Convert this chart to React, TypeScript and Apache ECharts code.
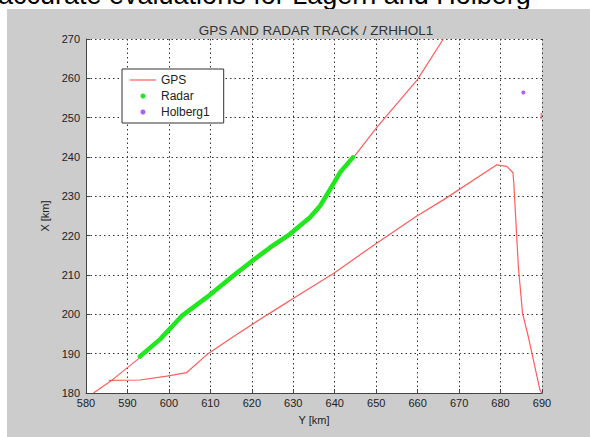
import React, { useEffect, useRef } from "react";
import * as echarts from "echarts";

// GPS track: [Y km, X km]; null breaks the line
const gpsTrack: ([number, number] | null)[] = [
  [666.2, 270.0], [659.9, 259.6], [650.2, 247.6], [644.4, 239.7], [641.3, 235.5],
  [638.9, 231.3], [636.5, 227.1], [634.0, 224.1], [629.2, 219.9], [624.4, 216.5],
  [619.6, 212.7], [615.5, 209.3], [609.1, 203.9], [603.1, 199.1], [597.9, 193.3],
  [593.0, 189.0], [585.8, 182.9], [581.8, 180.0],
  null,
  [585.5, 183.2], [593.0, 183.3], [599.5, 184.3], [604.3, 185.2], [609.1, 189.7],
  [615.5, 194.3], [623.6, 199.8], [631.6, 205.1], [639.7, 210.4], [650.1, 218.1],
  [659.8, 225.0], [666.2, 229.1], [679.1, 238.0], [681.5, 237.6], [683.0, 236.0],
  [683.2, 233.3], [684.3, 212.1], [685.3, 200.3], [686.7, 194.3], [689.5, 180.8],
  [689.9, 180.0],
  null,
  [689.8, 251.2], [689.8, 249.6],
];

// Radar track: [Y km, X km]
const radarTrack: [number, number][] = [
  [593.0, 189.3], [597.9, 193.7], [603.1, 199.6], [609.1, 204.3], [615.5, 209.8],
  [619.6, 213.2], [624.4, 217.0], [629.2, 220.4], [634.0, 224.6], [636.5, 227.6],
  [638.9, 231.8], [641.3, 236.1], [644.4, 239.9],
];

// Radar station position
const stationPos: [number, number][] = [[685.5, 256.4]];

const seriesNames = ["GPS", "Radar", "Holberg1"];
const titleText = "GPS AND RADAR TRACK / ZRHHOL1";
const xAxisName = "Y [km]";
const yAxisName = "X [km]";
const headerText = "accurate evaluations for Lägern and Holberg";

const FONT = "'Liberation Sans', Arial, sans-serif";

export default function App() {
  const ref = useRef<HTMLDivElement>(null);
  useEffect(() => {
    if (!ref.current) return;
    const chart = echarts.init(ref.current, null, { renderer: "svg" });
    chart.setOption({
      animation: false,
      backgroundColor: "#ffffff",
      textStyle: { fontFamily: FONT },
      graphic: [
        {
          type: "text",
          x: -2,
          y: -5,
          z: -20,
          style: {
            text: headerText,
            fontSize: 27,
            fontFamily: FONT,
            fill: "#000",
            verticalAlign: "middle",
          },
        },
        {
          type: "rect",
          z: -10,
          shape: { x: 7, y: 9, width: 583, height: 428 },
          style: { fill: "#cccccc" },
        },
      ],
      title: {
        text: titleText,
        left: 311,
        top: 18,
        textAlign: "center",
        textStyle: { fontSize: 13.5, fontWeight: "normal", color: "#333", fontFamily: FONT },
      },
      legend: {
        orient: "vertical",
        left: 122,
        top: 69,
        padding: [4, 14, 4, 8],
        itemGap: 2,
        itemWidth: 26,
        itemHeight: 5,
        backgroundColor: "#ffffff",
        borderColor: "#333",
        borderWidth: 1,
        borderRadius: 0,
        textStyle: { fontSize: 12, color: "#222", lineHeight: 14, fontFamily: FONT },
        data: [
          { name: seriesNames[0], icon: "path://M0,0 H26 V1.2 H0 Z" },
          { name: seriesNames[1], icon: "circle" },
          { name: seriesNames[2], icon: "circle" },
        ],
      },
      grid: {
        left: 86,
        right: 48,
        top: 39,
        bottom: 44,
        show: true,
        backgroundColor: "#ffffff",
        borderWidth: 0,
      },
      xAxis: {
        type: "value",
        min: 580,
        max: 690,
        interval: 10,
        name: xAxisName,
        nameLocation: "middle",
        nameGap: 21,
        nameTextStyle: { fontSize: 11, color: "#222" },
        axisLine: { lineStyle: { color: "#444", width: 1 } },
        axisTick: { inside: true, length: 4, lineStyle: { color: "#444" } },
        axisLabel: { fontSize: 11, color: "#222", margin: 4 },
        splitLine: { show: true, lineStyle: { type: [1.5, 3], color: "#333", width: 1 } },
      },
      yAxis: {
        type: "value",
        min: 180,
        max: 270,
        interval: 10,
        name: yAxisName,
        nameLocation: "middle",
        nameGap: 36,
        nameTextStyle: { fontSize: 11, color: "#222" },
        axisLine: { show: true, lineStyle: { color: "#444", width: 1 } },
        axisTick: { show: true, inside: true, length: 4, lineStyle: { color: "#444" } },
        axisLabel: { fontSize: 11, color: "#222", margin: 6 },
        splitLine: { show: true, lineStyle: { type: [1.5, 3], color: "#333", width: 1 } },
      },
      series: [
        {
          name: seriesNames[0],
          type: "line",
          data: gpsTrack.map((p) => (p ? p : [null, null])),
          connectNulls: false,
          showSymbol: false,
          symbol: "none",
          clip: true,
          color: "#ff5c5c",
          itemStyle: { color: "#ff5c5c" },
          lineStyle: { color: "#ff5c5c", width: 1.2 },
          z: 3,
        },
        {
          name: seriesNames[1],
          type: "line",
          data: radarTrack,
          showSymbol: false,
          symbol: "none",
          color: "#1fe81f",
          itemStyle: { color: "#1fe81f" },
          lineStyle: { color: "#1fe81f", width: 4.5, cap: "round", join: "round" },
          z: 4,
        },
        {
          name: seriesNames[2],
          type: "scatter",
          data: stationPos,
          symbol: "circle",
          symbolSize: 4,
          itemStyle: { color: "#9933ff" },
          z: 5,
        },
      ],
    });
    return () => chart.dispose();
  }, []);
  return (
    <div
      ref={ref}
      style={{ position: "fixed", left: 0, top: 0, width: 590, height: 437 }}
    />
  );
}
